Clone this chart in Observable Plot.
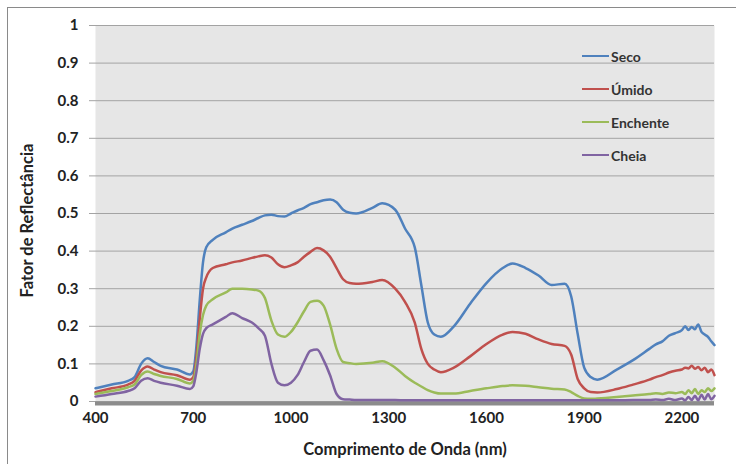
<!DOCTYPE html>
<html>
<head>
<meta charset="utf-8">
<script src="https://cdn.jsdelivr.net/npm/d3@7"></script>
<script src="https://cdn.jsdelivr.net/npm/@observablehq/plot@0.6"></script>
<style>
  html, body { margin: 0; padding: 0; background: #fff; }
  #wrap { position: relative; width: 736px; height: 464px; overflow: hidden; font-family: Lato, "DejaVu Sans", sans-serif; }
  #wrap svg { position: absolute; left: 0; top: 0; }
  #border { position: absolute; left: 7px; top: 7px; width: 740px; height: 470px; border-top: 1.5px solid #8a8a8a; border-left: 1.5px solid #8a8a8a; box-sizing: border-box; pointer-events: none; }
  .leg { position: absolute; left: 582px; height: 20px; display: flex; align-items: center; font-weight: bold; font-size: 14px; color: #333; }
  .leg span.sw { display: inline-block; width: 27px; height: 2.5px; margin-right: 2px; }
</style>
</head>
<body>
<div id="wrap"><div id="border"></div></div>
<script>
const names = ["Seco", "Úmido", "Enchente", "Cheia"];
const colors = ["#4f81bd", "#c0504d", "#9bbb59", "#8064a2"];
const xTicks = [400, 700, 1000, 1300, 1600, 1900, 2200];
const yTicks = [0, 0.1, 0.2, 0.3, 0.4, 0.5, 0.6, 0.7, 0.8, 0.9, 1];

const wl = [400,450,500,520,540,560,580,600,650,690,700,710,720,730,740,760,800,820,850,880,900,920,940,960,980,1000,1020,1040,1060,1080,1100,1120,1140,1160,1180,1200,1250,1280,1320,1350,1380,1400,1420,1440,1460,1500,1550,1600,1650,1680,1720,1760,1800,1840,1860,1880,1900,1920,1940,2000,2050,2100,2120,2140,2160,2180,2200,2210,2220,2230,2240,2250,2260,2270,2280,2290,2300];

const seco = [0.035,0.045,0.055,0.065,0.1,0.115,0.105,0.095,0.085,0.072,0.08,0.15,0.27,0.37,0.41,0.43,0.45,0.46,0.47,0.48,0.488,0.495,0.497,0.493,0.492,0.5,0.508,0.515,0.525,0.53,0.535,0.537,0.53,0.51,0.502,0.5,0.515,0.527,0.51,0.46,0.41,0.31,0.21,0.178,0.172,0.2,0.26,0.315,0.355,0.367,0.355,0.335,0.31,0.313,0.28,0.18,0.09,0.065,0.058,0.085,0.11,0.14,0.152,0.16,0.175,0.182,0.19,0.2,0.19,0.198,0.192,0.205,0.185,0.178,0.172,0.16,0.15];

const umido = [0.025,0.035,0.045,0.055,0.082,0.093,0.085,0.078,0.07,0.058,0.065,0.12,0.22,0.3,0.33,0.355,0.365,0.37,0.375,0.382,0.386,0.389,0.383,0.365,0.357,0.362,0.37,0.385,0.398,0.408,0.402,0.385,0.355,0.325,0.315,0.313,0.318,0.323,0.3,0.265,0.21,0.14,0.1,0.085,0.078,0.09,0.12,0.153,0.178,0.185,0.18,0.165,0.153,0.148,0.125,0.06,0.035,0.025,0.024,0.033,0.045,0.058,0.065,0.07,0.077,0.082,0.085,0.09,0.088,0.095,0.087,0.092,0.083,0.09,0.078,0.085,0.07];

const enchente = [0.02,0.028,0.038,0.045,0.07,0.08,0.073,0.068,0.06,0.048,0.055,0.1,0.18,0.23,0.255,0.272,0.29,0.3,0.3,0.298,0.295,0.275,0.215,0.178,0.172,0.185,0.21,0.24,0.265,0.268,0.255,0.205,0.14,0.105,0.102,0.1,0.103,0.107,0.09,0.068,0.05,0.04,0.03,0.024,0.021,0.021,0.028,0.035,0.041,0.043,0.042,0.038,0.034,0.032,0.025,0.015,0.008,0.007,0.008,0.012,0.016,0.02,0.022,0.02,0.024,0.022,0.025,0.02,0.03,0.022,0.033,0.02,0.03,0.025,0.035,0.028,0.035];

const cheia = [0.013,0.02,0.028,0.035,0.055,0.062,0.055,0.05,0.042,0.033,0.04,0.08,0.14,0.18,0.195,0.205,0.225,0.235,0.222,0.21,0.195,0.175,0.1,0.05,0.043,0.05,0.07,0.105,0.135,0.138,0.11,0.07,0.02,0.006,0.005,0.004,0.004,0.004,0.004,0.003,0.003,0.003,0.003,0.003,0.003,0.003,0.003,0.003,0.003,0.003,0.003,0.003,0.003,0.003,0.003,0.003,0.003,0.003,0.003,0.003,0.004,0.004,0.005,0.004,0.007,0.004,0.008,0.003,0.012,0.004,0.015,0.003,0.018,0.005,0.02,0.006,0.015];

const seriesValues = [seco, umido, enchente, cheia];
const data = names.flatMap((n, k) => wl.map((w, i) => ({wl: w, v: seriesValues[k][i], name: n})));

const chart = Plot.plot({
  width: 736,
  height: 464,
  marginLeft: 95,
  marginRight: 22,
  marginTop: 25,
  marginBottom: 63,
  style: {fontFamily: "Lato, 'DejaVu Sans', sans-serif", background: "transparent", color: "#222"},
  x: {domain: [400, 2300]},
  y: {domain: [0, 1]},
  color: {domain: names, range: colors},
  marks: [
    Plot.frame({fill: "#e6e6e6", stroke: null}),
    Plot.gridY(yTicks, {stroke: "#a3a3a3", strokeOpacity: 1, strokeWidth: 1}),
    Plot.axisY(yTicks, {tickSize: 6, tickPadding: 11, stroke: "#a3a3a3", fontSize: 15, fontWeight: "bold", fill: "#222", tickFormat: d => String(d), label: null}),
    Plot.axisX(xTicks, {tickSize: 0, tickPadding: 11, fontSize: 15, fontWeight: "bold", fill: "#222", tickFormat: d => String(d), label: null}),
    Plot.ruleY([0], {stroke: "#8c8c8c", strokeWidth: 4, dy: 2}),
    Plot.line(data, {x: "wl", y: "v", z: "name", stroke: "name", strokeWidth: 2.5, curve: "monotone-x"}),
    Plot.text(["Comprimento de Onda (nm)"], {frameAnchor: "bottom", dy: 48, textAnchor: "middle", lineAnchor: "middle", text: d => d, fontSize: 16.5, fontWeight: "bold", fill: "#222"}),
    Plot.text(["Fator de Reflectância"], {frameAnchor: "left", dx: -68, dy: 7, textAnchor: "middle", lineAnchor: "middle", rotate: -90, text: d => d, fontSize: 16.5, fontWeight: "bold", fill: "#222"})
  ]
});

const wrap = document.getElementById("wrap");
wrap.insertBefore(chart, wrap.firstChild);

const legY = [56, 89, 122, 155];
names.forEach((n, i) => {
  const d = document.createElement("div");
  d.className = "leg";
  d.style.top = (legY[i] - 10) + "px";
  const sw = document.createElement("span");
  sw.className = "sw";
  sw.style.background = colors[i];
  d.appendChild(sw);
  d.appendChild(document.createTextNode(n));
  wrap.appendChild(d);
});
</script>
</body>
</html>
